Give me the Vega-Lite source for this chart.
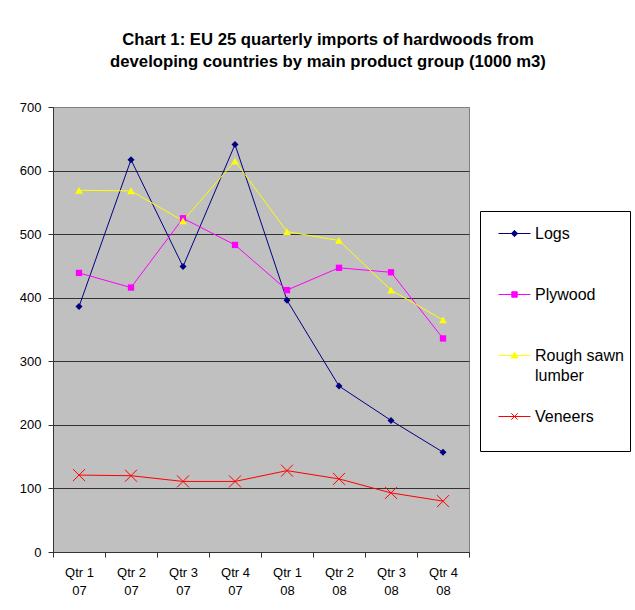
{
  "$schema": "https://vega.github.io/schema/vega-lite/v6.json",
  "width": 416,
  "height": 445,
  "autosize": {"type": "none"},
  "padding": {"left": 53, "top": 107, "right": 166, "bottom": 58},
  "background": "white",
  "title": {
    "text": ["Chart 1: EU 25 quarterly imports of hardwoods from", "developing countries by main product group (1000 m3)"],
    "font": "Liberation Sans", "fontSize": 16.7, "fontWeight": "bold", "color": "black",
    "anchor": "middle", "frame": "group", "dx": 67, "offset": 30, "lineHeight": 22
  },
  "data": {"values": [
    {"quarter": "Qtr 1 07", "series": "Logs", "value": 386},
    {"quarter": "Qtr 2 07", "series": "Logs", "value": 617},
    {"quarter": "Qtr 3 07", "series": "Logs", "value": 449},
    {"quarter": "Qtr 4 07", "series": "Logs", "value": 641},
    {"quarter": "Qtr 1 08", "series": "Logs", "value": 396},
    {"quarter": "Qtr 2 08", "series": "Logs", "value": 261},
    {"quarter": "Qtr 3 08", "series": "Logs", "value": 207},
    {"quarter": "Qtr 4 08", "series": "Logs", "value": 157},
    {"quarter": "Qtr 1 07", "series": "Plywood", "value": 439},
    {"quarter": "Qtr 2 07", "series": "Plywood", "value": 416},
    {"quarter": "Qtr 3 07", "series": "Plywood", "value": 525},
    {"quarter": "Qtr 4 07", "series": "Plywood", "value": 483},
    {"quarter": "Qtr 1 08", "series": "Plywood", "value": 412},
    {"quarter": "Qtr 2 08", "series": "Plywood", "value": 447},
    {"quarter": "Qtr 3 08", "series": "Plywood", "value": 440},
    {"quarter": "Qtr 4 08", "series": "Plywood", "value": 336},
    {"quarter": "Qtr 1 07", "series": "Rough sawn lumber", "value": 569},
    {"quarter": "Qtr 2 07", "series": "Rough sawn lumber", "value": 568},
    {"quarter": "Qtr 3 07", "series": "Rough sawn lumber", "value": 521},
    {"quarter": "Qtr 4 07", "series": "Rough sawn lumber", "value": 615},
    {"quarter": "Qtr 1 08", "series": "Rough sawn lumber", "value": 504},
    {"quarter": "Qtr 2 08", "series": "Rough sawn lumber", "value": 490},
    {"quarter": "Qtr 3 08", "series": "Rough sawn lumber", "value": 412},
    {"quarter": "Qtr 4 08", "series": "Rough sawn lumber", "value": 365},
    {"quarter": "Qtr 1 07", "series": "Veneers", "value": 121},
    {"quarter": "Qtr 2 07", "series": "Veneers", "value": 120},
    {"quarter": "Qtr 3 07", "series": "Veneers", "value": 111},
    {"quarter": "Qtr 4 07", "series": "Veneers", "value": 111},
    {"quarter": "Qtr 1 08", "series": "Veneers", "value": 128},
    {"quarter": "Qtr 2 08", "series": "Veneers", "value": 115},
    {"quarter": "Qtr 3 08", "series": "Veneers", "value": 93},
    {"quarter": "Qtr 4 08", "series": "Veneers", "value": 80}
  ]},
  "encoding": {
    "x": {
      "field": "quarter", "type": "ordinal", "sort": null, "bandPosition": 0.5,
      "scale": {"type": "band", "paddingInner": 0, "paddingOuter": 0},
      "axis": {
        "title": null, "tickBand": "extent", "labelAngle": 0, "grid": false,
        "labelExpr": "[substring(datum.label, 0, 5), substring(datum.label, 6)]",
        "labelFont": "Liberation Sans", "labelFontSize": 13, "labelColor": "black",
        "labelLineHeight": 18, "labelBaseline": "top", "labelPadding": 9,
        "domainColor": "#333333", "tickColor": "#333333", "tickSize": 5
      }
    },
    "y": {
      "field": "value", "type": "quantitative",
      "scale": {"domain": [0, 700], "nice": false},
      "axis": {
        "title": null, "values": [0, 100, 200, 300, 400, 500, 600, 700],
        "grid": true, "gridColor": {"condition": {"test": "datum.value === 700", "value": "#808080"}, "value": "#333333"},
        "gridWidth": 1,
        "labelFont": "Liberation Sans", "labelFontSize": 13, "labelColor": "black",
        "labelPadding": 7, "domainColor": "#333333", "tickColor": "#333333", "tickSize": 5
      }
    },
    "color": {
      "field": "series", "type": "nominal",
      "scale": {"domain": ["Logs", "Plywood", "Rough sawn lumber", "Veneers"], "range": ["#000080", "#FF00FF", "#FFFF00", "#FF0000"]},
      "legend": {
        "orient": "none", "legendX": 427, "legendY": 104, "title": null,
        "strokeColor": "black", "fillColor": "white", "padding": 6,
        "symbolOffset": 12,
        "labelFont": "Liberation Sans", "labelFontSize": 16, "labelColor": "black",
        "labelOffset": 4, "labelLimit": 300, "rowPadding": 16, "symbolSize": 1024,
        "labelExpr": "datum.label === 'Rough sawn lumber' ? ['Rough sawn', 'lumber'] : [datum.label, '']",
        "encode": {
          "symbols": {"update": {
            "shape": {"signal": "datum.value === 'Logs' ? 'M-1,0H1M0,-0.2L0.2,0L0,0.2L-0.2,0Z' : datum.value === 'Plywood' ? 'M-1,0H1M-0.17,-0.17H0.17V0.17H-0.17Z' : datum.value === 'Rough sawn lumber' ? 'M-1,0H1M0,-0.2L0.22,0.16H-0.22Z' : 'M-1,0H1M-0.2,-0.2L0.2,0.2M-0.2,0.2L0.2,-0.2'"},
            "size": {"value": 1024},
            "fill": {"signal": "datum.value === 'Logs' ? '#000080' : datum.value === 'Plywood' ? '#FF00FF' : datum.value === 'Rough sawn lumber' ? '#FFFF00' : 'transparent'"},
            "stroke": {"signal": "datum.value === 'Logs' ? '#000080' : datum.value === 'Plywood' ? '#FF00FF' : datum.value === 'Rough sawn lumber' ? '#FFFF00' : '#FF0000'"},
            "strokeWidth": {"value": 1},
            "opacity": {"value": 1},
            "fillOpacity": {"value": 1},
            "strokeOpacity": {"value": 1}
          }},
          "labels": {"update": {
            "lineHeight": {"value": 20}
          }}
        }
      }
    }
  },
  "layer": [
    {"mark": {"type": "line", "strokeWidth": 1}},
    {"transform": [{"filter": {"field": "series", "equal": "Logs"}}],
     "mark": {"type": "point", "shape": "diamond", "size": 49, "filled": true, "opacity": 1, "strokeWidth": 1}},
    {"transform": [{"filter": {"field": "series", "equal": "Plywood"}}],
     "mark": {"type": "point", "shape": "square", "size": 40, "filled": true, "opacity": 1}},
    {"transform": [{"filter": {"field": "series", "equal": "Rough sawn lumber"}}],
     "mark": {"type": "point", "shape": "triangle-up", "size": 60, "filled": true, "opacity": 1}},
    {"transform": [{"filter": {"field": "series", "equal": "Veneers"}}],
     "mark": {"type": "point", "shape": "M-1,-1L1,1M-1,1L1,-1", "size": 144, "filled": false, "opacity": 1, "strokeWidth": 1}}
  ],
  "config": {
    "view": {"fill": "#C0C0C0", "stroke": "#808080", "strokeWidth": 1}
  }
}
